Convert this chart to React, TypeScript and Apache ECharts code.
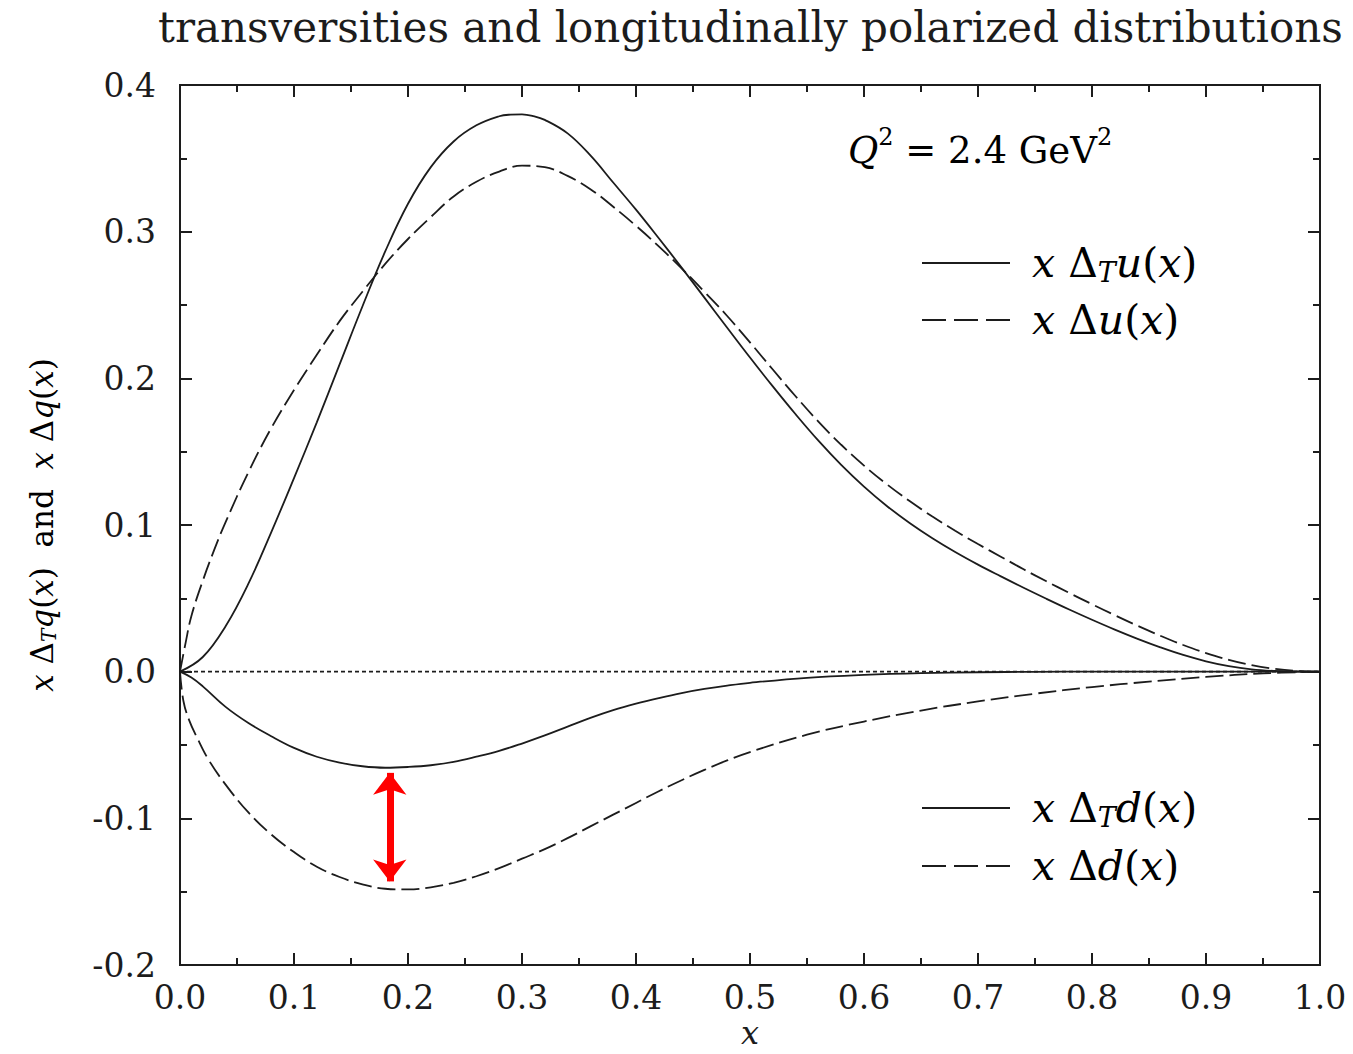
import React, { useEffect, useRef } from "react";
import * as echarts from "echarts";

// x·Δ_T u(x) — transversity of the u quark (solid)
const xDeltaTu: [number, number][] = [
  [0, 0], [0.02, 0.01], [0.04, 0.031], [0.06, 0.06], [0.08, 0.095], [0.1, 0.132],
  [0.12, 0.17], [0.14, 0.2095], [0.16, 0.249], [0.18, 0.2865], [0.2, 0.319], [0.22, 0.344],
  [0.24, 0.3615], [0.26, 0.3725], [0.28, 0.3787], [0.29, 0.3798], [0.3, 0.38], [0.31, 0.3788],
  [0.32, 0.3762], [0.34, 0.367], [0.36, 0.352], [0.38, 0.3335], [0.4, 0.315], [0.42, 0.2955],
  [0.44, 0.2755], [0.46, 0.255], [0.48, 0.2345], [0.5, 0.2142], [0.52, 0.1945], [0.54, 0.1755],
  [0.56, 0.1575], [0.58, 0.141], [0.6, 0.1262], [0.62, 0.113], [0.64, 0.1014], [0.66, 0.091],
  [0.68, 0.0816], [0.7, 0.073], [0.72, 0.065], [0.74, 0.0572], [0.76, 0.0497], [0.78, 0.0424],
  [0.8, 0.0354], [0.82, 0.0287], [0.84, 0.0224], [0.86, 0.0166], [0.88, 0.0114], [0.9, 0.0071],
  [0.92, 0.0038], [0.94, 0.0016], [0.96, 0.0005], [0.98, 0.0001], [1.0, 0],
];

// x·Δu(x) — helicity distribution of the u quark (dashed)
const xDeltaU: [number, number][] = [
  [0, 0], [0.005, 0.02], [0.01, 0.038], [0.02, 0.062], [0.03, 0.083], [0.04, 0.102],
  [0.06, 0.136], [0.08, 0.166], [0.1, 0.192], [0.12, 0.216], [0.14, 0.239], [0.16, 0.259],
  [0.18, 0.278], [0.2, 0.295], [0.22, 0.31], [0.24, 0.324], [0.26, 0.334], [0.28, 0.341],
  [0.3, 0.345], [0.32, 0.344], [0.34, 0.338], [0.36, 0.329], [0.38, 0.317], [0.4, 0.304],
  [0.42, 0.29], [0.44, 0.275], [0.46, 0.259], [0.48, 0.2425], [0.5, 0.2245], [0.52, 0.206],
  [0.54, 0.1878], [0.56, 0.1705], [0.58, 0.1547], [0.6, 0.1405], [0.62, 0.1278], [0.64, 0.1163],
  [0.66, 0.1058], [0.68, 0.0961], [0.7, 0.087], [0.72, 0.0784], [0.74, 0.0698], [0.76, 0.0616],
  [0.78, 0.0537], [0.8, 0.046], [0.82, 0.0385], [0.84, 0.0313], [0.86, 0.0245], [0.88, 0.0182],
  [0.9, 0.0127], [0.92, 0.0081], [0.94, 0.0045], [0.96, 0.002], [0.98, 0.0005], [1.0, 0],
];

// x·Δ_T d(x) — transversity of the d quark (solid)
const xDeltaTd: [number, number][] = [
  [0, 0], [0.01, -0.004], [0.02, -0.01], [0.04, -0.024], [0.06, -0.035], [0.08, -0.044],
  [0.1, -0.052], [0.12, -0.058], [0.14, -0.062], [0.16, -0.0645], [0.18, -0.0655],
  [0.2, -0.065], [0.22, -0.0638], [0.24, -0.0615], [0.26, -0.058], [0.28, -0.054],
  [0.3, -0.049], [0.32, -0.0435], [0.34, -0.0375], [0.36, -0.0315], [0.38, -0.0262],
  [0.4, -0.0218], [0.42, -0.018], [0.44, -0.0146], [0.46, -0.0118], [0.48, -0.0095],
  [0.5, -0.0076], [0.55, -0.0042], [0.6, -0.0022], [0.65, -0.001], [0.7, -0.0004],
  [0.75, -0.0001], [0.8, 0], [0.9, 0], [1.0, 0],
];

// x·Δd(x) — helicity distribution of the d quark (dashed)
const xDeltaD: [number, number][] = [
  [0, 0], [0.003, -0.02], [0.008, -0.033], [0.015, -0.045], [0.025, -0.06], [0.04, -0.077],
  [0.06, -0.096], [0.08, -0.111], [0.1, -0.123], [0.12, -0.133], [0.14, -0.14],
  [0.16, -0.145], [0.18, -0.148], [0.2, -0.1485], [0.22, -0.147], [0.24, -0.144],
  [0.26, -0.1395], [0.28, -0.134], [0.3, -0.1275], [0.32, -0.121], [0.34, -0.1135],
  [0.36, -0.1055], [0.38, -0.0975], [0.4, -0.0895], [0.42, -0.0815], [0.44, -0.074],
  [0.46, -0.067], [0.48, -0.0605], [0.5, -0.0548], [0.55, -0.043], [0.6, -0.034],
  [0.65, -0.0265], [0.7, -0.0203], [0.75, -0.015], [0.8, -0.0105], [0.85, -0.0068],
  [0.9, -0.0036], [0.95, -0.0012], [1.0, 0],
];

// reference line y = 0
const zeroLine: [number, number][] = [[0, 0], [1, 0]];

// double arrow marking the gap between Δ_T d and Δd near their minima
const gapArrow: [number, number][] = [[0.184, -0.069], [0.184, -0.143]];

const xRange = [0, 1];
const yRange = [-0.2, 0.4];
const tickStep = 0.1;

const SERIF = "'DejaVu Serif', 'Liberation Serif', serif";
const INK = "#1c1c1c";
const DASH = [18, 6];

const fmt = (v: number) => (Math.abs(v) < 1e-9 ? 0 : v).toFixed(1);

const mathRich = (size: number) => ({
  i: { fontFamily: SERIF, fontStyle: "italic", fontSize: size, color: INK },
  r: { fontFamily: SERIF, fontSize: size, color: INK },
  sub: {
    fontFamily: SERIF, fontStyle: "italic", fontSize: Math.round(size * 0.66), color: INK,
    padding: [Math.round(size * 0.45), 0, 0, 0],
  },
  sup: {
    fontFamily: SERIF, fontSize: Math.round(size * 0.66), color: INK,
    padding: [0, 0, Math.round(size * 0.7), 0],
  },
});

const legendItem = (y: number, dashed: boolean, label: string) => [
  {
    type: "line",
    shape: { x1: 922, y1: y, x2: 1010, y2: y },
    style: { stroke: INK, lineWidth: 2, lineDash: dashed ? [24, 8] : null },
  },
  {
    type: "text",
    x: 1032,
    y,
    style: {
      text: label,
      rich: mathRich(41),
      verticalAlign: "middle",
      align: "left",
    },
  },
];

export default function App() {
  const ref = useRef<HTMLDivElement>(null);

  useEffect(() => {
    if (!ref.current) return;
    const chart = echarts.init(ref.current, undefined, { renderer: "svg" });

    const tickStyle = {
      axisLine: { show: false, onZero: false },
      axisTick: { inside: true, length: 12, lineStyle: { color: INK, width: 2 } },
      minorTick: { show: true, splitNumber: 2, length: 7, lineStyle: { color: INK, width: 2 } },
      splitLine: { show: false },
      minorSplitLine: { show: false },
    };
    const xAxisBase = {
      type: "value" as const,
      min: xRange[0],
      max: xRange[1],
      interval: tickStep,
      ...tickStyle,
    };
    const yAxisBase = {
      type: "value" as const,
      min: yRange[0],
      max: yRange[1],
      interval: tickStep,
      ...tickStyle,
    };

    const curve = (name: string, data: [number, number][], dashed: boolean) => ({
      name,
      type: "line",
      data,
      smooth: 0.4,
      showSymbol: false,
      symbol: "none",
      lineStyle: { color: INK, width: 1.8, type: dashed ? DASH : "solid" },
      z: 3,
    });

    chart.setOption({
      animation: false,
      backgroundColor: "#ffffff",
      grid: {
        left: 180, top: 85, width: 1140, height: 880,
        show: true, borderColor: INK, borderWidth: 2,
      },
      xAxis: [
        {
          ...xAxisBase,
          position: "bottom",
          axisLabel: {
            formatter: fmt, fontFamily: SERIF, fontSize: 33, color: INK, margin: 16,
          },
        },
        { ...xAxisBase, position: "top", axisLabel: { show: false } },
      ],
      yAxis: [
        {
          ...yAxisBase,
          position: "left",
          axisLabel: {
            formatter: fmt, fontFamily: SERIF, fontSize: 33, color: INK, margin: 24,
          },
        },
        { ...yAxisBase, position: "right", axisLabel: { show: false } },
      ],
      series: [
        {
          name: "zero",
          type: "line",
          data: zeroLine,
          showSymbol: false,
          symbol: "none",
          lineStyle: { color: INK, width: 1.6, type: [4, 3] },
          z: 2,
          markLine: {
            silent: true,
            symbol: ["arrow", "arrow"],
            symbolSize: [25, 22],
            label: { show: false },
            lineStyle: { color: "#ff0000", width: 7, type: "solid" },
            data: [[{ coord: gapArrow[0] }, { coord: gapArrow[1] }]],
            z: 5,
          },
        },
        curve("x ΔTu(x)", xDeltaTu, false),
        curve("x Δu(x)", xDeltaU, true),
        curve("x ΔTd(x)", xDeltaTd, false),
        curve("x Δd(x)", xDeltaD, true),
      ],
      graphic: [
        {
          type: "text",
          x: 158,
          y: 27,
          style: {
            text: "transversities and longitudinally polarized distributions",
            fontFamily: SERIF,
            fontSize: 42,
            fill: INK,
            verticalAlign: "middle",
            align: "left",
          },
        },
        {
          type: "text",
          x: 848,
          y: 150,
          style: {
            text: "{i|Q}{sup|2}{r| = 2.4 GeV}{sup|2}",
            rich: mathRich(37),
            verticalAlign: "middle",
            align: "left",
          },
        },
        ...legendItem(263, false, "{i|x}{r| Δ}{sub|T}{i|u}{r|(}{i|x}{r|)}"),
        ...legendItem(320, true, "{i|x}{r| Δ}{i|u}{r|(}{i|x}{r|)}"),
        ...legendItem(808, false, "{i|x}{r| Δ}{sub|T}{i|d}{r|(}{i|x}{r|)}"),
        ...legendItem(866, true, "{i|x}{r| Δ}{i|d}{r|(}{i|x}{r|)}"),
        {
          type: "text",
          x: 42,
          y: 525,
          rotation: Math.PI / 2,
          style: {
            text: "{i|x}{r| Δ}{sub|T}{i|q}{r|(}{i|x}{r|)  and  }{i|x}{r| Δ}{i|q}{r|(}{i|x}{r|)}",
            rich: mathRich(31),
            verticalAlign: "middle",
            align: "center",
          },
        },
        {
          type: "text",
          x: 750,
          y: 1033,
          style: {
            text: "x",
            fontFamily: SERIF,
            fontStyle: "italic",
            fontSize: 32,
            fill: INK,
            verticalAlign: "middle",
            align: "center",
          },
        },
      ],
    });

    return () => chart.dispose();
  }, []);

  return (
    <div
      ref={ref}
      style={{ position: "absolute", left: 0, top: 0, width: 1353, height: 1054, background: "#fff" }}
    />
  );
}
